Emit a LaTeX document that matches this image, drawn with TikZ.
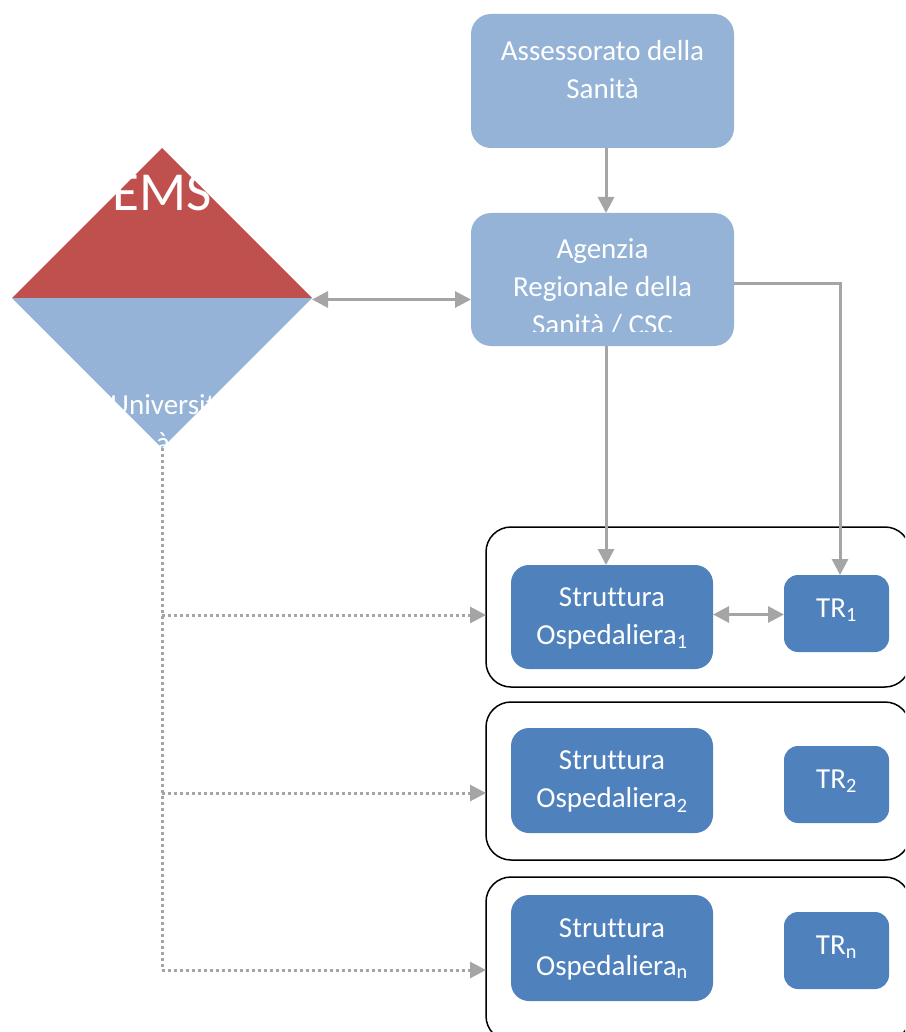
\documentclass[tikz,border=0pt]{standalone}
\usepackage{fontspec}
\setmainfont{Carlito}[Ligatures=NoCommon]
\usetikzlibrary{arrows.meta,shapes.geometric}
\definecolor{lightblue}{HTML}{95B3D7}
\definecolor{darkblue}{HTML}{4F81BD}
\definecolor{emsred}{HTML}{C0504D}
\definecolor{linkgray}{HTML}{A5A5A5}
\begin{document}
\begin{tikzpicture}[x=1pt,y=-1pt,
  lightbox/.style={fill=lightblue,rounded corners=20pt,minimum width=263pt,inner sep=0pt,outer sep=0pt},
  darkbox/.style={fill=darkblue,rounded corners=18pt,inner sep=0pt,outer sep=0pt},
  trbox/.style={fill=darkblue,rounded corners=14pt,inner sep=0pt,outer sep=0pt,minimum width=105pt,minimum height=77pt},
  groupbox/.style={draw=black,line width=1.5pt,rounded corners=25pt,inner sep=0pt,outer sep=0pt,minimum width=424pt},
  txt/.style={text=white,font=\fontsize{29}{38}\selectfont,align=center,inner sep=0pt},
  link/.style={draw=linkgray,line width=3pt,-{Triangle[length=16pt,width=16pt]}},
  both/.style={draw=linkgray,line width=3pt,{Triangle[length=16pt,width=16pt]}-{Triangle[length=16pt,width=16pt]}},
  dotline/.style={draw=linkgray,line width=3pt,dash pattern=on 3pt off 3pt},
  dotlink/.style={dotline,-{Triangle[length=16pt,width=16pt]}}
]
\useasboundingbox (0,0) rectangle (905,1032);
\clip (0,0) rectangle (905,1032);

% upper hierarchy
\node[lightbox,minimum height=134pt] (ass) at (602.5,81) {};
\node[txt] (asst) at (602.5,70) {Assessorato della\\Sanità};
\node[lightbox,minimum height=133pt] (age) at (602.5,279.5) {};
\begin{scope}
  \clip (471,213) rectangle (734,331);
  \node[txt] (aget) at (602.5,287) {Agenzia\\Regionale della\\Sanità / CSC};
\end{scope}

% EMS / Università diamond
\node[diamond,aspect=1,minimum width=300pt,minimum height=300pt,inner sep=0pt,outer sep=0pt] (ems) at (162,298) {};
\fill[emsred] (ems.north) -- (ems.east) -- (ems.west) -- cycle;
\fill[lightblue] (ems.west) -- (ems.east) -- (ems.south) -- cycle;
\node[text=white,font=\fontsize{55}{60}\selectfont,inner sep=0pt] (emst) at (162,193) {EMS};
\node[txt] (unit) at (163,424) {Universit\\à};

% hospital groups
\node[groupbox,minimum height=160pt] (g1) at (698,607) {};
\node[groupbox,minimum height=158pt] (g2) at (698,781) {};
\node[groupbox,minimum height=164pt] (g3) at (698,959) {};

\node[darkbox,minimum width=202pt,minimum height=104pt] (s1) at (612,617) {};
\node[txt] (s1t) at (612,618) {Struttura\\Ospedaliera\textsubscript{1}};
\node[darkbox,minimum width=202pt,minimum height=105pt] (s2) at (612,780.5) {};
\node[txt] (s2t) at (612,781.5) {Struttura\\Ospedaliera\textsubscript{2}};
\node[darkbox,minimum width=202pt,minimum height=106pt] (s3) at (612,948) {};
\node[txt] (s3t) at (612,949) {Struttura\\Ospedaliera\textsubscript{n}};

\node[trbox] (tr1) at (836.5,613.5) {};
\node[txt] (tr1t) at (836.5,610) {TR\textsubscript{1}};
\node[trbox] (tr2) at (836.5,784.5) {};
\node[txt] (tr2t) at (836.5,781) {TR\textsubscript{2}};
\node[trbox] (tr3) at (836.5,950.5) {};
\node[txt] (tr3t) at (836.5,947) {TR\textsubscript{n}};

% connectors
\draw[link] ([xshift=3.5pt]ass.south) -- ([xshift=3.5pt]age.north);
\draw[both] ([yshift=-1.5pt]ems.east) -- ([yshift=-1.5pt]ems.east -| age.west);
\draw[link] ([xshift=3.5pt]age.south) -- ([xshift=3.5pt]age.south |- s1.north);
\draw[link] ([yshift=-3.5pt]age.east) -| ([xshift=3.5pt]tr1.north);
\draw[both] ([yshift=2.5pt]s1.east) -- ([yshift=2.5pt]s1.east -| tr1.west);

% dotted links from the university
\coordinate (b1) at (162,615);
\coordinate (b2) at (162,793);
\coordinate (b3) at (162,970);
\draw[dotline] (ems.south) -- (b3);
\draw[dotlink] (b1) -- (b1 -| g1.west);
\draw[dotlink] (b2) -- (b2 -| g2.west);
\draw[dotlink] (b3) -- (b3 -| g3.west);
\end{tikzpicture}
\end{document}
